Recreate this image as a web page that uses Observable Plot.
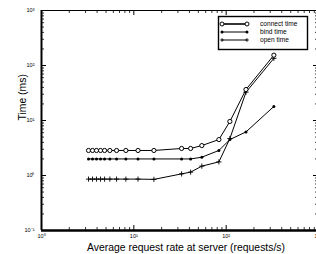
<!DOCTYPE html>
<html><head><meta charset="utf-8">
<script src="https://cdn.jsdelivr.net/npm/d3@7"></script>
<script src="https://cdn.jsdelivr.net/npm/@observablehq/plot@0.6"></script>
<style>
body{margin:0;background:#fff;overflow:hidden}
#wrap{position:relative;width:316px;height:254px;overflow:hidden;font-family:"Liberation Sans",Arial,sans-serif}
#legend{position:absolute;left:0;top:0}
</style>
</head><body><div id="wrap"></div>
<script>
// ---- data ----
const rate = [3.23, 3.57, 3.94, 4.36, 4.82, 5.5, 6.5, 8.2, 11.1, 16.5, 32.9, 41.2, 54.5, 83.4, 109.7, 163.9, 328.6];
const connectTime = [2.85, 2.85, 2.85, 2.85, 2.85, 2.85, 2.85, 2.85, 2.85, 2.85, 3.1, 3.1, 3.5, 4.5, 9.6, 36.6, 154];
const bindTime = [2.0, 2.0, 2.0, 2.0, 2.0, 2.0, 2.0, 2.0, 2.0, 2.0, 2.0, 2.0, 2.15, 2.85, 4.5, 6.2, 18];
const openTime = [0.86, 0.86, 0.86, 0.86, 0.86, 0.86, 0.86, 0.86, 0.86, 0.85, 1.07, 1.15, 1.48, 1.77, 4.7, 32.7, 135];
const seriesNames = ["connect time", "bind time", "open time"];
const xTicks = [1, 10, 100, 1000];
const yTicks = [0.1, 1, 10, 100, 1000];
const xTitle = "Average request rate at server (requests/s)";
const yTitle = "Time (ms)";

const sup = {"0":"\u2070","1":"\u00b9","2":"\u00b2","3":"\u00b3","-":"\u207b"};
const fmt = v => "10" + String(Math.round(Math.log10(v))).split("").map(c => sup[c]).join("");
const minor = (decades) => decades.flatMap(d => [2,3,4,5,6,7,8,9].map(k => k * d));
const xMinor = minor([1, 10, 100]);
const yMinor = minor([0.1, 1, 10, 100]);

const W = 316, H = 254, mL = 41, mT = 10, mB = 24, mR = -2;
const innerW = W - mL - mR, innerH = H - mT - mB;

const rows = (ys) => rate.map((r, i) => ({r, t: ys[i]}));
const font = "Liberation Sans, Arial, sans-serif";

const chart = Plot.plot({
  width: W, height: H,
  marginLeft: mL, marginTop: mT, marginBottom: mB, marginRight: mR,
  style: {fontFamily: font, background: "white", color: "black", overflow: "hidden"},
  x: {type: "log", domain: [1, 1000]},
  y: {type: "log", domain: [0.1, 1000]},
  marks: [
    // inward ticks, all four sides
    Plot.tickX(xTicks, {x: d => d, insetTop: innerH - 5, stroke: "black"}),
    Plot.tickX(xTicks, {x: d => d, insetBottom: innerH - 5, stroke: "black"}),
    Plot.tickX(xMinor, {x: d => d, insetTop: innerH - 3, stroke: "black", strokeWidth: 0.8}),
    Plot.tickX(xMinor, {x: d => d, insetBottom: innerH - 3, stroke: "black", strokeWidth: 0.8}),
    Plot.tickY(yTicks, {y: d => d, insetRight: innerW - 5, stroke: "black"}),
    Plot.tickY(yTicks, {y: d => d, insetLeft: innerW - 5, stroke: "black"}),
    Plot.tickY(yMinor, {y: d => d, insetRight: innerW - 3, stroke: "black", strokeWidth: 0.8}),
    Plot.tickY(yMinor, {y: d => d, insetLeft: innerW - 3, stroke: "black", strokeWidth: 0.8}),
    // frame
    Plot.ruleY([1000], {stroke: "black", strokeWidth: 1}),
    Plot.ruleX([1000], {stroke: "black", strokeWidth: 1}),
    Plot.ruleX([1], {stroke: "black", strokeWidth: 2}),
    Plot.ruleY([0.1], {stroke: "black", strokeWidth: 2.5}),
    // tick labels
    Plot.axisX(xTicks, {tickSize: 0, tickPadding: 4, tickFormat: fmt, fontSize: 5.5, label: null}),
    Plot.axisY(yTicks, {tickSize: 0, tickPadding: 7, tickFormat: fmt, fontSize: 5.5, label: null}),
    // titles
    Plot.text([xTitle], {frameAnchor: "bottom", dx: 6, dy: 20, lineAnchor: "bottom", fontSize: 10.4, text: d => d}),
    Plot.text([yTitle], {frameAnchor: "left", dx: -19, rotate: -90, lineAnchor: "middle", fontSize: 10.4, text: d => d}),
    // series
    Plot.line(rows(openTime), {x: "r", y: "t", stroke: "black", strokeWidth: 1}),
    Plot.line(rows(bindTime), {x: "r", y: "t", stroke: "black", strokeWidth: 1}),
    Plot.line(rows(connectTime), {x: "r", y: "t", stroke: "black", strokeWidth: 1}),
    Plot.dot(rows(openTime), {x: "r", y: "t", symbol: "plus", r: 1.8, stroke: "black", strokeWidth: 0.9}),
    Plot.dot(rows(bindTime), {x: "r", y: "t", r: 1.5, fill: "black", stroke: "none"}),
    Plot.dot(rows(connectTime), {x: "r", y: "t", r: 2.1, fill: "white", stroke: "black", strokeWidth: 1})
  ]
});
const wrap = document.getElementById("wrap");
wrap.appendChild(chart);

// legend overlay (inside plot area, upper right)
const ns = "http://www.w3.org/2000/svg";
const lg = document.createElementNS(ns, "svg");
lg.setAttribute("id", "legend");
lg.setAttribute("width", W); lg.setAttribute("height", 60);
const bx = 218.5, by = 16.5, bw = 89, bh = 33;
const add = (tag, attrs) => { const e = document.createElementNS(ns, tag); for (const k in attrs) e.setAttribute(k, attrs[k]); lg.appendChild(e); return e; };
add("rect", {x: bx, y: by, width: bw, height: bh, fill: "white", stroke: "black", "stroke-width": 1.4});
seriesNames.forEach((name, i) => {
  const y = by + 7.5 + i * 8;
  const x1 = 222, x2 = 247;
  add("line", {x1, x2, y1: y, y2: y, stroke: "black", "stroke-width": i === 0 ? 1.6 : 1});
  [x1, x2].forEach(x => {
    if (i === 0) add("circle", {cx: x, cy: y, r: 2.0, fill: "white", stroke: "black", "stroke-width": 1});
    else if (i === 1) add("circle", {cx: x, cy: y, r: 1.5, fill: "black"});
    else add("path", {d: `M${x-1.8},${y}h3.6M${x},${y-1.8}v3.6`, stroke: "black", "stroke-width": 0.9});
  });
  const t = add("text", {x: 260, y: y + 2.3, "font-size": 6.6, "font-family": font, fill: "black"});
  t.textContent = name;
});
wrap.appendChild(lg);
</script>
</body></html>
